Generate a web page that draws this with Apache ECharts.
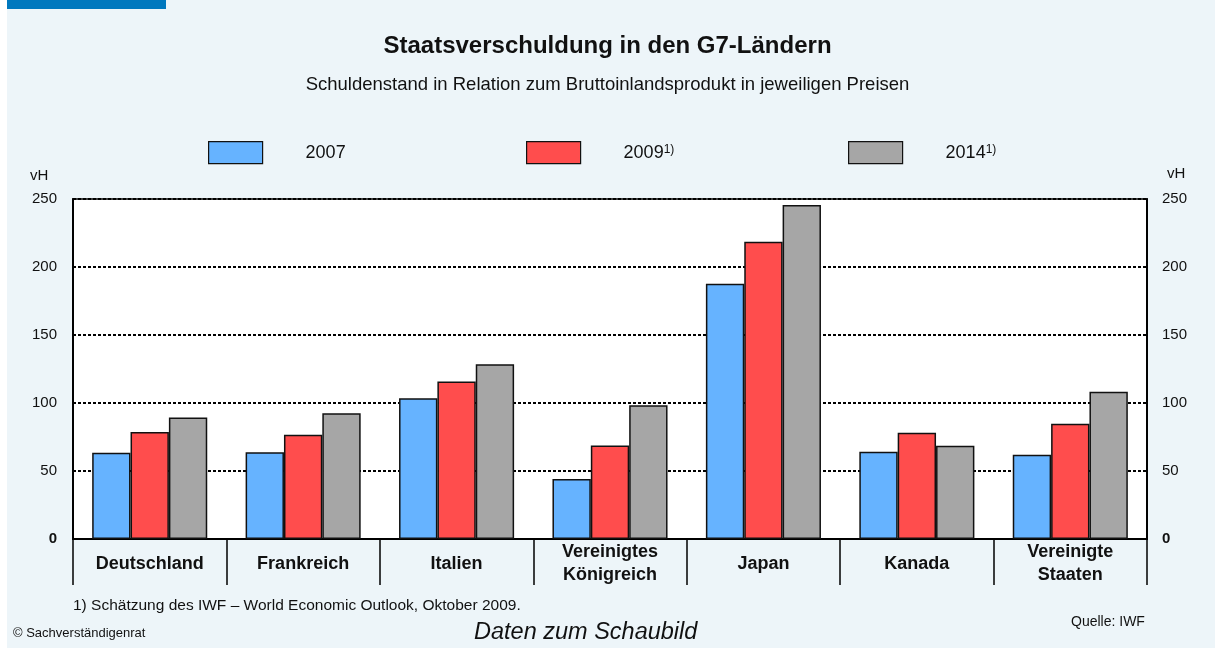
<!DOCTYPE html>
<html>
<head>
<meta charset="utf-8">
<title>Staatsverschuldung in den G7-Ländern</title>
<script src="https://cdn.jsdelivr.net/npm/echarts@6/dist/echarts.min.js"></script>
<style>
  html, body { margin: 0; padding: 0; background: #fff; }
  #main { width: 1215px; height: 648px; }
</style>
</head>
<body>
<div id="main"></div>
<script>
var laender = ['Deutschland', 'Frankreich', 'Italien', 'Vereinigtes\nKönigreich', 'Japan', 'Kanada', 'Vereinigte\nStaaten'];
var jahre = ['2007', '2009', '2014'];
var werte2007 = [63.4, 63.8, 103.5, 44.1, 187.7, 64.2, 61.9];
var werte2009 = [78.7, 76.7, 115.8, 68.7, 218.6, 78.2, 84.8];
var werte2014 = [89.3, 92.5, 128.5, 98.3, 245.6, 68.6, 108.2];
var farben = ['#66B3FF', '#FF4D4D', '#A6A6A6'];

var schrift = "'Liberation Sans', Arial, sans-serif";

var myChart = echarts.init(document.getElementById('main'));

function legende(name, left) {
    return {
        data: [name],
        left: left,
        top: 141,
        padding: 0,
        itemWidth: 54,
        itemHeight: 22,
        icon: 'rect',
        selectedMode: false,
        itemStyle: { borderColor: '#111', borderWidth: 1.2 },
        formatter: function (n) {
            return n === '2007' ? n : n + '{s|1)}';
        },
        textStyle: {
            fontFamily: schrift,
            fontSize: 18,
            color: '#111',
            padding: [0, 0, 0, 38],
            rich: {
                s: { fontFamily: schrift, fontSize: 12, color: '#111', verticalAlign: 'top', padding: [0, 0, 6, 0] }
            }
        }
    };
}

function yAchse(pos, margin, splits) {
    return {
        type: 'value',
        position: pos,
        min: 0,
        max: 250,
        interval: 50,
        axisLine: { show: true, lineStyle: { color: '#000', width: 2 } },
        axisTick: { show: false },
        splitLine: {
            show: splits,
            lineStyle: { color: '#000', width: 2, type: [3, 2] }
        },
        axisLabel: {
            margin: margin,
            fontFamily: schrift,
            fontSize: 15,
            color: '#111',
            formatter: function (v) { return v === 0 ? '{b|0}' : v; },
            rich: { b: { fontFamily: schrift, fontSize: 15, fontWeight: 'bold', color: '#111' } }
        }
    };
}

var option = {
    backgroundColor: '#EDF5F9',
    animation: false,
    title: [
        {
            text: 'Staatsverschuldung in den G7-Ländern',
            left: 'center',
            top: 34,
            padding: 0,
            textStyle: { fontFamily: schrift, fontSize: 24, fontWeight: 'bold', color: '#111' }
        },
        {
            text: 'Schuldenstand in Relation zum Bruttoinlandsprodukt in jeweiligen Preisen',
            left: 'center',
            top: 75,
            padding: 0,
            textStyle: { fontFamily: schrift, fontSize: 18.5, fontWeight: 'normal', color: '#111' }
        }
    ],
    legend: [
        legende('2007', 208),
        legende('2009', 526),
        legende('2014', 848)
    ],
    grid: {
        left: 73,
        right: 68,
        top: 199,
        bottom: 109,
        show: true,
        backgroundColor: '#fff',
        borderColor: '#000',
        borderWidth: 1.5
    },
    xAxis: {
        type: 'category',
        data: laender,
        axisLine: { show: true, lineStyle: { color: '#000', width: 2 } },
        axisTick: { show: true, length: 46, lineStyle: { color: '#000', width: 1.5 } },
        axisLabel: {
            interval: 0,
            margin: 25,
            verticalAlign: 'middle',
            lineHeight: 23,
            fontFamily: schrift,
            fontSize: 18,
            fontWeight: 'bold',
            color: '#111'
        }
    },
    yAxis: [
        yAchse('left', 16, true),
        yAchse('right', 15, false)
    ],
    series: [
        {
            name: jahre[0], type: 'bar', data: werte2007,
            barGap: 0, barCategoryGap: '25%',
            itemStyle: { color: farben[0], borderColor: '#111', borderWidth: 1.5 }
        },
        {
            name: jahre[1], type: 'bar', data: werte2009,
            barGap: 0, barCategoryGap: '25%',
            itemStyle: { color: farben[1], borderColor: '#111', borderWidth: 1.5 }
        },
        {
            name: jahre[2], type: 'bar', data: werte2014,
            barGap: 0, barCategoryGap: '25%',
            itemStyle: { color: farben[2], borderColor: '#111', borderWidth: 1.5 }
        }
    ],
    graphic: [
        { type: 'rect', left: 0, top: 0, shape: { width: 7, height: 648 }, style: { fill: '#fff' } },
        { type: 'rect', left: 7, top: 0, shape: { width: 159, height: 9 }, style: { fill: '#0078BE' } },
        { type: 'text', left: 30, top: 168, style: { text: 'vH', font: '15px ' + schrift, fill: '#111' } },
        { type: 'text', left: 1167, top: 166, style: { text: 'vH', font: '15px ' + schrift, fill: '#111' } },
        { type: 'text', left: 73, top: 598, style: { text: '1) Schätzung des IWF – World Economic Outlook, Oktober 2009.', font: '15.5px ' + schrift, fill: '#111' } },
        { type: 'text', left: 13, top: 627, style: { text: '© Sachverständigenrat', font: '13px ' + schrift, fill: '#111' } },
        { type: 'text', left: 474, top: 621, style: { text: 'Daten zum Schaubild', font: 'italic 23.5px ' + schrift, fill: '#111' } },
        { type: 'text', left: 1071, top: 615, style: { text: 'Quelle: IWF', font: '14px ' + schrift, fill: '#111' } }
    ]
};

myChart.setOption(option);
</script>
</body>
</html>
